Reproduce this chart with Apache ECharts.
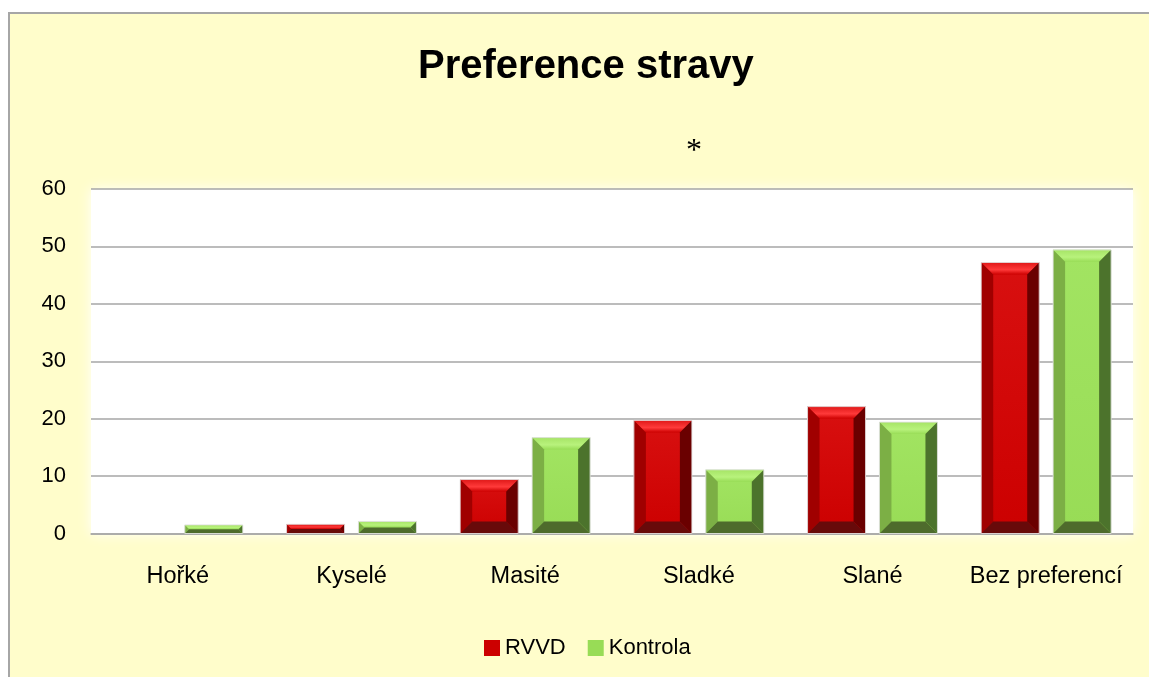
<!DOCTYPE html>
<html>
<head>
<meta charset="utf-8">
<script src="https://cdn.jsdelivr.net/npm/echarts@6/dist/echarts.min.js"></script>
<style>html,body{margin:0;padding:0;background:#fff}#c{width:1149px;height:677px}</style>
</head>
<body>
<div id="c"></div>
<script>
const categories = ['Hořké', 'Kyselé', 'Masité', 'Sladké', 'Slané', 'Bez preferencí'];
const seriesNames = ['RVVD', 'Kontrola'];
const rvvd = [0, 1.6, 9.4, 19.7, 22.1, 47.2];
const kontrola = [1.5, 2.1, 16.7, 11.1, 19.4, 49.4];
const yTicks = [0, 10, 20, 30, 40, 50, 60];
const titleText = 'Preference stravy';
const markText = '*';

const FONT = "'Liberation Sans', Arial, sans-serif";
const chart = echarts.init(document.getElementById('c'), null, {renderer: 'canvas'});

const palettes = [
  {front: '#CC0000', frontHi: '#D81010', top: '#E01818', topHi: '#FF3A3A', left: '#A00000', right: '#6A0000', bottom: '#680A0A'},
  {front: '#98DC56', frontHi: '#A2E462', top: '#A6E466', topHi: '#B8F27C', left: '#7CAF45', right: '#4C732C', bottom: '#4E6B2C'}
];

// bar geometry relative to category band
const BAR_FRAC = 0.334, GAP_FRAC = 0.08;

function makeRender(sIdx) {
  const p = palettes[sIdx];
  return function (params, api) {
    const idx = api.value(0);
    const val = api.value(1);
    const band = api.size([1, 0])[0];
    const w = band * BAR_FRAC;
    const off = (w + band * GAP_FRAC) / 2 * (sIdx === 0 ? -1 : 1);
    const topPt = api.coord([idx, val]);
    const basePt = api.coord([idx, 0]);
    const h = basePt[1] - topPt[1];
    if (h < 0.5) return null;
    const x0 = topPt[0] + off - w / 2, x1 = x0 + w;
    const y0 = topPt[1], y1 = basePt[1];
    const bs = Math.min(12, w / 2, h / 2);   // side bevel
    const bv = Math.min(12, h / 2);         // top/bottom bevel
    const ix0 = x0 + bs, ix1 = x1 - bs, iy0 = y0 + bv, iy1 = y1 - bv;
    const poly = (pts, fill) => ({type: 'polygon', shape: {points: pts}, style: {fill: fill}});
    const children = [
      {type: 'rect', shape: {x: x0, y: y0, width: w, height: h},
       style: {fill: new echarts.graphic.LinearGradient(0, 0, 0, 1, [{offset: 0, color: p.frontHi}, {offset: 1, color: p.front}])}},
      poly([[x0, y0], [x1, y0], [ix1, iy0], [ix0, iy0]],
        new echarts.graphic.LinearGradient(0, 0, 0, 1, [{offset: 0, color: p.top}, {offset: 0.6, color: p.topHi}, {offset: 1, color: p.front}])),
      poly([[x0, y0], [ix0, iy0], [ix0, iy1], [x0, y1]], p.left),
      poly([[x1, y0], [x1, y1], [ix1, iy1], [ix1, iy0]], p.right),
      poly([[x0, y1], [ix0, iy1], [ix1, iy1], [x1, y1]], p.bottom),
      {type: 'rect', shape: {x: x0, y: y0, width: w, height: h},
       style: {fill: 'none', stroke: 'rgba(225,225,225,0.9)', lineWidth: 1}}
    ];
    return {type: 'group', children: children};
  };
}

function seriesData(vals) { return vals.map((v, i) => [i, v]); }

const option = {
  backgroundColor: '#ffffff',
  animation: false,
  title: {
    text: titleText,
    left: 413,
    top: 42,
    textStyle: {fontFamily: FONT, fontWeight: 'bold', fontSize: 40, color: '#000'}
  },
  graphic: [
    {type: 'rect', z: -10, shape: {x: 9, y: 13, width: 1300, height: 800},
     style: {fill: '#FFFDCB', stroke: '#A6A6A6', lineWidth: 2}},
    {type: 'text', z: 10, x: 694, y: 152,
     style: {text: markText, fontFamily: "'Liberation Serif', 'DejaVu Serif', serif", fontSize: 32, fill: '#000', align: 'center', verticalAlign: 'middle'}}
  ],
  legend: {
    data: seriesNames,
    left: 479,
    top: 632,
    itemWidth: 16,
    itemHeight: 16,
    itemGap: 22,
    icon: 'rect',
    textStyle: {fontFamily: FONT, fontSize: 22, color: '#000'}
  },
  grid: {
    left: 91, right: 16, top: 189, bottom: 143.5,
    show: true, backgroundColor: '#ffffff', borderWidth: 0,
    shadowColor: 'rgba(255,255,255,1)', shadowBlur: 12
  },
  xAxis: {
    type: 'category', data: categories,
    axisLine: {show: true, lineStyle: {color: '#A6A6A6', width: 1.5}},
    axisTick: {show: false},
    axisLabel: {fontFamily: FONT, fontSize: 23.5, color: '#000', margin: 31, interval: 0}
  },
  yAxis: {
    type: 'value', min: yTicks[0], max: yTicks[yTicks.length - 1], interval: 10,
    axisLine: {show: false}, axisTick: {show: false},
    axisLabel: {fontFamily: FONT, fontSize: 22, color: '#000', margin: 25},
    splitLine: {lineStyle: {color: '#A6A6A6', width: 1.5}}
  },
  series: seriesNames.map((name, s) => ({
    type: 'custom',
    name: name,
    data: seriesData(s === 0 ? rvvd : kontrola),
    encode: {x: 0, y: 1},
    itemStyle: {color: palettes[s].front},
    renderItem: makeRender(s),
    z: 3
  }))
};
chart.setOption(option);
</script>
</body>
</html>
